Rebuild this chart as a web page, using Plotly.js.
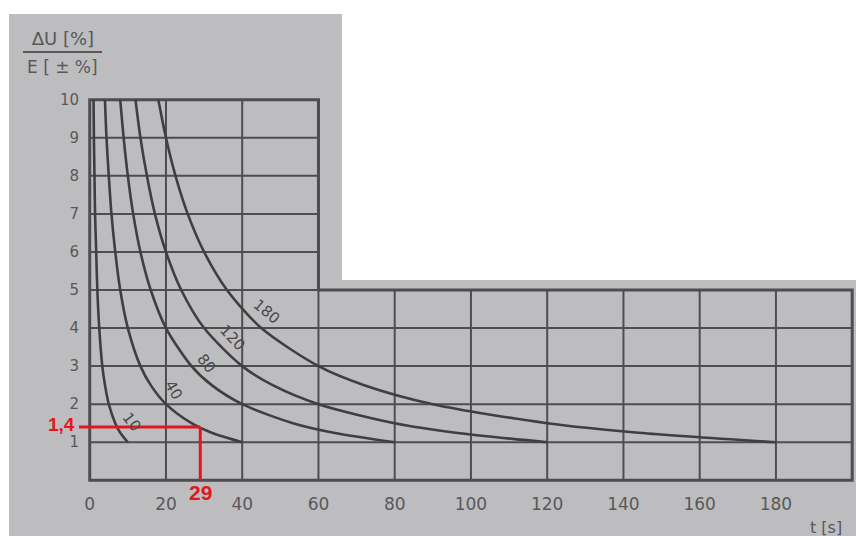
<!DOCTYPE html>
<html>
<head>
<meta charset="utf-8">
<script src="https://cdn.plot.ly/plotly-3.0.1.min.js"></script>
<style>html,body{margin:0;padding:0;background:#ffffff;}#chart{width:856px;height:536px;}</style>
</head>
<body>
<div id="chart"></div>
<script>
// ---- data ----
const curveNames = ['10', '40', '80', '120', '180'];
const c10X  = [1, 1.1, 1.25, 1.4, 1.7, 2, 2.5, 3.3, 4, 5, 6.7, 8, 10];
const c10Y  = [10, 9, 8, 7, 6, 5, 4, 3, 2.5, 2, 1.5, 1.25, 1];
const c40X  = [4, 4.4, 5, 5.7, 6.7, 8, 10, 13.3, 16, 20, 26.7, 32, 40];
const c40Y  = [10, 9, 8, 7, 6, 5, 4, 3, 2.5, 2, 1.5, 1.25, 1];
const c80X  = [8, 8.9, 10, 11.4, 13.3, 16, 20, 26.7, 32, 40, 53.3, 64, 80];
const c80Y  = [10, 9, 8, 7, 6, 5, 4, 3, 2.5, 2, 1.5, 1.25, 1];
const c120X = [12, 13.3, 15, 17.1, 20, 24, 30, 40, 48, 60, 80, 96, 120];
const c120Y = [10, 9, 8, 7, 6, 5, 4, 3, 2.5, 2, 1.5, 1.25, 1];
const c180X = [18, 20, 22.5, 25.7, 30, 36, 45, 60, 72, 90, 120, 144, 180];
const c180Y = [10, 9, 8, 7, 6, 5, 4, 3, 2.5, 2, 1.5, 1.25, 1];
const curveXs = [c10X, c40X, c80X, c120X, c180X];
const curveYs = [c10Y, c40Y, c80Y, c120Y, c180Y];
// curve label positions (read)
const labelX = [11, 22, 30.5, 37.5, 46.5];
const labelY = [1.53, 2.37, 3.08, 3.74, 4.42];
const labelAngle = [52, 60, 52, 47, 40];
// axes
const xTickVals = [0, 20, 40, 60, 80, 100, 120, 140, 160, 180];
const yTickVals = [1, 2, 3, 4, 5, 6, 7, 8, 9, 10];
const xMaxLower = 200;   // right edge of lower panel
const xMaxUpper = 60;    // right edge of upper panel
const yMaxLower = 5;
const yMaxUpper = 10;
// red reading mark
const markX = 29;
const markY = 1.4;
const markXLabel = '29';
const markYLabel = '1,4';

// ---- layout geometry ----
const W = 856, H = 536, L = 84, R = 0, T = 94, B = 50;
const xr = [-1.5, 201], yr = [-0.15, 10.15];
const pxX = p => (p - L) / (W - L - R);
const pxY = p => (H - B - p) / (H - T - B);
const dX = v => (v - xr[0]) / (xr[1] - xr[0]);
const dY = v => (v - yr[0]) / (yr[1] - yr[0]);

const BG = '#bdbdbf';
const GRID = '#4e4e51';
const CURVE = '#3f3f42';
const TXT = '#58585b';
const RED = '#e2161d';

const shapes = [];
// photo background and whited-out corner
shapes.push({type:'rect', xref:'paper', yref:'paper', x0:pxX(9), x1:pxX(W+2), y0:pxY(H+2), y1:pxY(14), fillcolor:BG, line:{width:0}, layer:'below'});
shapes.push({type:'rect', xref:'paper', yref:'paper', x0:pxX(342), x1:pxX(W+2), y0:pxY(280), y1:pxY(-2), fillcolor:'#ffffff', line:{width:0}, layer:'below'});

// grid
xTickVals.forEach(v => {
  if (v === 0) return;
  const top = v <= xMaxUpper ? yMaxUpper : yMaxLower;
  shapes.push({type:'line', xref:'x', yref:'y', x0:v, x1:v, y0:0, y1:top, line:{color:GRID, width:2}, layer:'below'});
});
yTickVals.forEach(v => {
  if (v === yMaxUpper) return;
  const right = v <= yMaxLower ? xMaxLower : xMaxUpper;
  shapes.push({type:'line', xref:'x', yref:'y', x0:0, x1:right, y0:v, y1:v, line:{color:GRID, width:2}, layer:'below'});
});
// L-shaped border
shapes.push({type:'path', xref:'x', yref:'y',
  path:`M 0 0 L 0 ${yMaxUpper} L ${xMaxUpper} ${yMaxUpper} L ${xMaxUpper} ${yMaxLower} L ${xMaxLower} ${yMaxLower} L ${xMaxLower} 0 Z`,
  line:{color:GRID, width:3}, layer:'below'});

// y-title fraction bar
shapes.push({type:'line', xref:'paper', yref:'paper', x0:pxX(23), x1:pxX(102), y0:pxY(52), y1:pxY(52), line:{color:TXT, width:2}});

// red reading lines
shapes.push({type:'line', xref:'paper', yref:'paper', x0:pxX(79), x1:dX(markX), y0:dY(markY), y1:dY(markY), line:{color:RED, width:3}});
shapes.push({type:'line', xref:'paper', yref:'paper', x0:dX(markX), x1:dX(markX), y0:dY(markY), y1:dY(0), line:{color:RED, width:3}});

const traces = curveXs.map((xs, i) => ({
  type:'scatter', mode:'lines', x:xs, y:curveYs[i], name:curveNames[i],
  line:{color:CURVE, width:2.6, shape:'spline', smoothing:0.8},
  showlegend:false, hoverinfo:'skip'
}));

const annotations = [];
curveNames.forEach((n, i) => {
  annotations.push({x:labelX[i], y:labelY[i], xref:'x', yref:'y', text:n, showarrow:false,
    textangle:labelAngle[i], font:{family:'DejaVu Sans', size:15, color:'#48484b'}});
});
annotations.push({xref:'paper', yref:'paper', x:pxX(62), y:pxY(38), text:'∆U [%]', showarrow:false,
  font:{family:'DejaVu Sans', size:18, color:TXT}, xanchor:'center', yanchor:'middle'});
annotations.push({xref:'paper', yref:'paper', x:pxX(62), y:pxY(67), text:'E [ ± %]', showarrow:false,
  font:{family:'DejaVu Sans', size:17, color:TXT}, xanchor:'center', yanchor:'middle'});
annotations.push({xref:'paper', yref:'paper', x:pxX(826), y:pxY(527), text:'t [s]', showarrow:false,
  font:{family:'DejaVu Sans', size:16, color:TXT}, xanchor:'center', yanchor:'middle'});
annotations.push({xref:'paper', yref:'paper', x:pxX(77), y:pxY(424), text:'<b>' + markYLabel + '</b>', showarrow:false,
  font:{family:'Liberation Sans', size:19, color:RED}, xanchor:'right', yanchor:'middle'});
annotations.push({xref:'paper', yref:'paper', x:dX(markX), y:pxY(492), text:'<b>' + markXLabel + '</b>', showarrow:false,
  font:{family:'Liberation Sans', size:21, color:RED}, xanchor:'center', yanchor:'middle'});

const layout = {
  width:W, height:H,
  margin:{l:L, r:R, t:T, b:B, pad:0},
  paper_bgcolor:'#ffffff', plot_bgcolor:'rgba(0,0,0,0)',
  showlegend:false,
  xaxis:{range:xr, tickvals:xTickVals, ticktext:xTickVals.map(String), showgrid:false, zeroline:false,
    showline:false, ticks:'', ticklabelstandoff:6, tickfont:{family:'DejaVu Sans', size:17, color:TXT}, fixedrange:true},
  yaxis:{range:yr, tickvals:yTickVals, ticktext:yTickVals.map(String), showgrid:false, zeroline:false,
    showline:false, ticks:'', ticklabelstandoff:4, tickfont:{family:'DejaVu Sans', size:15, color:TXT}, fixedrange:true},
  shapes:shapes,
  annotations:annotations
};

Plotly.newPlot('chart', traces, layout, {displayModeBar:false, staticPlot:true});
</script>
</body>
</html>
